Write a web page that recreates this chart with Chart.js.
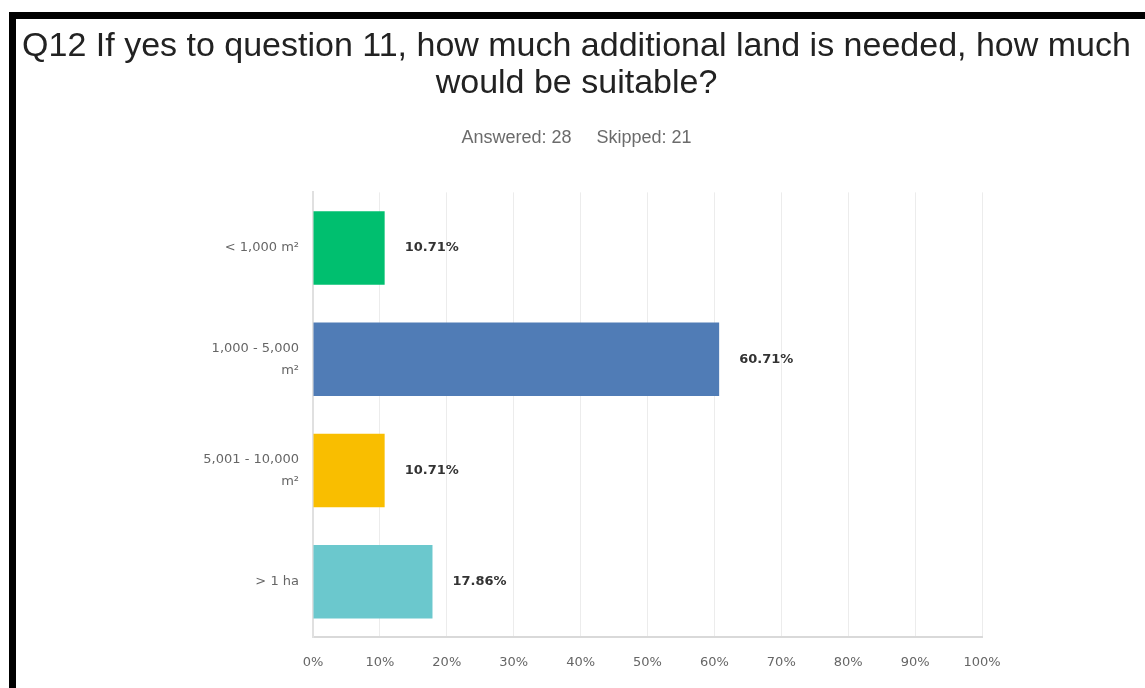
<!DOCTYPE html>
<html>
<head>
<meta charset="utf-8">
<script src="https://cdn.jsdelivr.net/npm/chart.js@4"></script>
<style>
    html, body { margin: 0; padding: 0; background: #fff; }
    body { width: 1145px; height: 688px; position: relative; overflow: hidden; }
    .frame {
        position: absolute; left: 9px; top: 12px; right: 0; bottom: 0;
        border-top: 7px solid #000; border-left: 7px solid #000;
    }
    #wrap { position: absolute; left: 16px; top: 19px; width: 1129px; height: 669px; }
</style>
</head>
<body>
<div class="frame"></div>
<div id="wrap"><canvas id="chart"></canvas></div>
<script>
const categories = [['< 1,000 m²'], ['1,000 - 5,000', 'm²'], ['5,001 - 10,000', 'm²'], ['> 1 ha']];
const percents = [10.71, 60.71, 10.71, 17.86];
const barColors = ['#00bf6f', '#507cb6', '#f9be00', '#6bc8cd'];
const answered = 28;
const skipped = 21;

// write the percentage just past the end of each bar
const valueLabels = {
    id: 'valueLabels',
    afterDatasetsDraw(chart) {
        const ctx = chart.ctx;
        const meta = chart.getDatasetMeta(0);
        ctx.save();
        ctx.font = 'bold 13px "DejaVu Sans"';
        ctx.fillStyle = '#333';
        ctx.textAlign = 'left';
        ctx.textBaseline = 'middle';
        meta.data.forEach((bar, i) => {
            ctx.fillText(percents[i].toFixed(2) + '%', bar.x + 20, bar.y);
        });
        ctx.restore();
    }
};

new Chart(document.getElementById('chart'), {
    type: 'bar',
    data: {
        labels: categories,
        datasets: [{
            data: percents,
            backgroundColor: barColors,
            categoryPercentage: 1,
            barPercentage: 0.66
        }]
    },
    options: {
        indexAxis: 'y',
        responsive: true,
        maintainAspectRatio: false,
        animation: false,
        layout: { padding: { left: 0, right: 8, top: 0, bottom: 1 } },
        plugins: {
            legend: { display: false },
            tooltip: { enabled: false },
            title: {
                display: true,
                text: ['Q12 If yes to question 11, how much additional land is needed, how much', 'would be suitable?'],
                color: '#222',
                font: { family: '"Liberation Sans", Arial, sans-serif', size: 34, weight: 'normal', lineHeight: 1.1 },
                padding: { top: 9, bottom: 24 }
            },
            subtitle: {
                display: true,
                text: 'Answered: ' + answered + '     Skipped: ' + skipped,
                color: '#6b6b6b',
                font: { family: '"Liberation Sans", Arial, sans-serif', size: 18, lineHeight: 1.2 },
                padding: { top: 0, bottom: 44 }
            }
        },
        scales: {
            x: {
                min: 0,
                max: 100,
                ticks: {
                    stepSize: 10,
                    padding: 17,
                    color: '#666',
                    font: { family: '"DejaVu Sans"', size: 13 },
                    callback: v => v + '%'
                },
                grid: { color: '#ececec', drawTicks: false },
                border: { color: '#d9d9d9', width: 2 }
            },
            y: {
                afterFit(scale) { scale.width = 297; },
                ticks: {
                    padding: 14,
                    color: '#666',
                    font: { family: '"DejaVu Sans"', size: 13, lineHeight: 1.7 }
                },
                grid: { display: false, drawTicks: false },
                border: { color: '#e0e0e0', width: 2 }
            },
            // empty right-hand gutter so the titles stay centred on the page
            gutter: {
                type: 'category',
                position: 'right',
                afterFit(scale) { scale.width = 155; },
                ticks: { display: false },
                grid: { display: false, drawTicks: false },
                border: { display: false }
            }
        }
    },
    plugins: [valueLabels]
});
</script>
</body>
</html>
